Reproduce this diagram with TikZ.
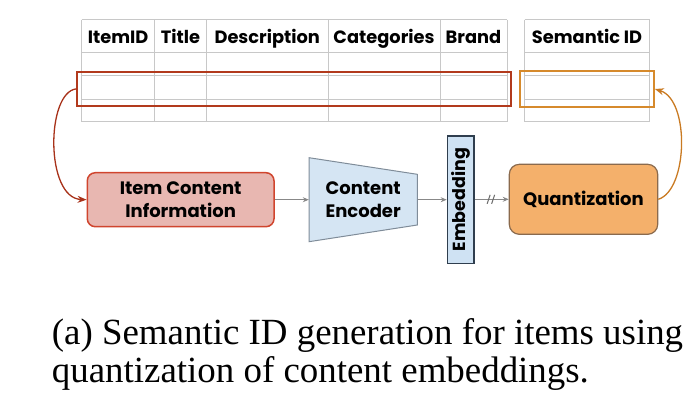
\documentclass[tikz,border=0pt]{standalone}
\usepackage{fontspec}
\setmainfont{Poppins}
\newfontfamily\capfont{Liberation Serif}
\usetikzlibrary{arrows.meta}
\definecolor{gridc}{HTML}{C8C8C8}
\definecolor{redsel}{HTML}{B23A1D}
\definecolor{orasel}{HTML}{D68A2C}
\definecolor{itemfill}{HTML}{E8B7B1}
\definecolor{itemdraw}{HTML}{D0452E}
\definecolor{encfill}{HTML}{D5E5F3}
\definecolor{encdraw}{HTML}{7F8C99}
\definecolor{embfill}{HTML}{CFE2F3}
\definecolor{embdraw}{HTML}{2F3E4E}
\definecolor{qfill}{HTML}{F4B06B}
\definecolor{qdraw}{HTML}{8A6A4D}
\definecolor{flowc}{HTML}{888888}
\definecolor{backl}{HTML}{A8321A}
\definecolor{backr}{HTML}{C97A22}
\begin{document}
\begin{tikzpicture}[x=1pt,y=-1pt,
  gridline/.style={draw=gridc,line width=0.8pt},
  headtxt/.style={font=\bfseries\fontsize{17.8}{20}\selectfont,anchor=base,inner sep=0pt},
  selbox/.style={draw,line width=1.8pt,inner sep=0pt},
  boxtxt/.style={font=\bfseries\fontsize{18}{22.7}\selectfont,align=center,inner sep=0pt},
  flow/.style={draw=flowc,line width=0.9pt,-{Stealth[length=6pt,width=5pt]}},
  backarrow/.style={line width=1.3pt,-{Stealth[length=9pt,width=7pt]}},
  captxt/.style={font=\capfont\fontsize{36.9}{38}\selectfont,anchor=base west,inner sep=0pt}
]
\useasboundingbox (0,0) rectangle (699,407);
% table
\foreach \x in {81.7,154.5,206.5,328,440,507}
  \draw[gridline] (\x,19.5) -- (\x,121.5);
\foreach \y in {19.5,52.5,75,99.5,121.5}
  \draw[gridline] (81.7,\y) -- (507,\y);
\foreach \x in {524.5,649.5}
  \draw[gridline] (\x,19.5) -- (\x,121.5);
\foreach \y in {19.5,52.5,75,99.5,121.5}
  \draw[gridline] (524.5,\y) -- (649.5,\y);
\node[headtxt] (h1) at (118.1,43.3) {ItemID};
\node[headtxt] (h2) at (180.5,43.3) {Title};
\node[headtxt] (h3) at (267.25,43.3) {Description};
\node[headtxt] (h4) at (384,43.3) {Categories};
\node[headtxt] (h5) at (473.5,43.3) {Brand};
\node[headtxt] (h6) at (587,43.3) {Semantic ID};
% selections
\node[selbox,draw=redsel,minimum width=433.4pt,minimum height=34.3pt] (rsel) at (294,88.85) {};
\node[selbox,draw=orasel,minimum width=134pt,minimum height=35.4pt] (osel) at (587,89) {};
% pipeline
\node[boxtxt,draw=itemdraw,fill=itemfill,line width=1.5pt,rounded corners=8pt,
      minimum width=186.7pt,minimum height=54pt] (item) at (180.65,199.7) {Item Content\\Information};
\draw[draw=encdraw,fill=encfill,line width=1pt] (309,157.7) -- (417.3,174.3) -- (417.3,225) -- (309,241.7) -- cycle;
\node[boxtxt,minimum width=108.3pt,minimum height=84pt] (enc) at (363.15,199.7) {Content\\Encoder};
\node[draw=embdraw,fill=embfill,line width=1.2pt,minimum width=26.7pt,minimum height=127.3pt,inner sep=0pt] (emb) at (460.65,199.65) {};
\node[font=\bfseries\fontsize{17.5}{18}\selectfont,rotate=90,inner sep=0pt] (embt) at (emb.center) {Embedding};
\node[boxtxt,draw=qdraw,fill=qfill,line width=1.2pt,rounded corners=10pt,
      minimum width=148.4pt,minimum height=70pt] (quant) at (583.5,199.3) {Quantization};
% connectors
\draw[flow] (item.east) -- (enc.west);
\draw[flow] (enc.east) -- (emb.west |- enc.east);
\draw[flow] (emb.east |- quant.west) -- coordinate[pos=0.5] (brk) (quant.west);
\draw[draw=flowc!80!black,line width=1pt] ([shift={(-4.5pt,-4.5pt)}]brk) -- ++(3pt,9pt);
\draw[draw=flowc!80!black,line width=1pt] ([shift={(0pt,-4.5pt)}]brk) -- ++(3pt,9pt);
\draw[backarrow,draw=backl] (rsel.west) .. controls (46,92) and (45,198) .. (item.west);
\draw[backarrow,draw=backr] (quant.east) .. controls (688,190) and (690,100) .. (osel.east);
% caption
\node[captxt] (cap1) at (51.7,344) {(a) Semantic ID generation for items using};
\node[captxt] (cap2) at (51.7,382.7) {quantization of content embeddings.};
\end{tikzpicture}
\end{document}
